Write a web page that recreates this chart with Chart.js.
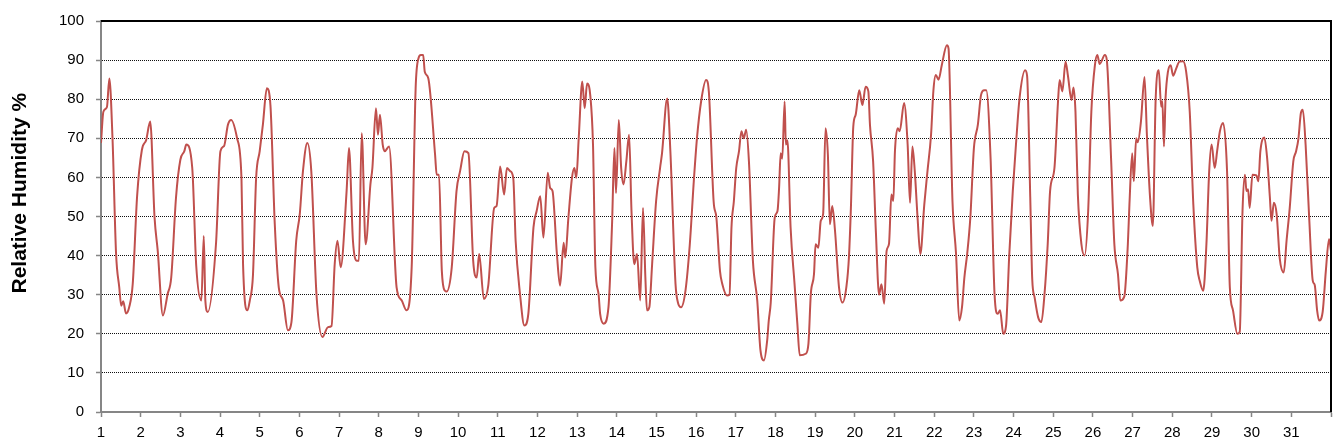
<!DOCTYPE html>
<html>
<head>
<meta charset="utf-8">
<script src="https://cdn.jsdelivr.net/npm/chart.js@4"></script>
<style>
  body { margin: 0; background: #fff; }
  #rh-chart { display: block; }
</style>
</head>
<body>
<canvas id="rh-chart" width="1338" height="447"></canvas>
<script>
// day of month (fractional) and relative humidity
const days = [
  1.00, 1.06, 1.15, 1.21, 1.29, 1.38, 1.46, 1.51, 1.56, 1.63, 1.71, 1.80, 1.91,
  2.03, 2.14, 2.24, 2.35, 2.43, 2.56, 2.68, 2.77, 2.89,
  3.00, 3.10, 3.15, 3.30, 3.40, 3.53, 3.59, 3.63, 3.69, 3.90,
  4.01, 4.10, 4.20, 4.28, 4.43, 4.54, 4.58, 4.69, 4.75, 4.83, 4.91,
  5.00, 5.08, 5.18, 5.27, 5.38, 5.48, 5.59, 5.71, 5.80, 5.92,
  6.01, 6.09, 6.20, 6.30, 6.43, 6.58, 6.72, 6.81, 6.89, 6.96,
  7.04, 7.19, 7.25, 7.35, 7.45, 7.50, 7.57, 7.67, 7.79, 7.84, 7.93, 7.98,
  8.03, 8.10, 8.15, 8.26, 8.45, 8.58, 8.70, 8.83, 8.93,
  9.00, 9.06, 9.12, 9.16, 9.25, 9.42, 9.46, 9.52, 9.59, 9.67, 9.71, 9.84, 9.96,
  10.05, 10.16, 10.26, 10.38, 10.47, 10.53, 10.65, 10.76, 10.91, 10.97,
  11.06, 11.16, 11.23, 11.31, 11.39, 11.45, 11.56, 11.67, 11.77, 11.90, 11.98,
  12.07, 12.15, 12.26, 12.32, 12.38, 12.49, 12.57, 12.66, 12.70, 12.78, 12.87, 12.93, 12.98,
  13.04, 13.13, 13.19, 13.25, 13.33, 13.40, 13.46, 13.54, 13.58, 13.67, 13.79, 13.88, 13.94, 13.98,
  14.05, 14.11, 14.17, 14.24, 14.31, 14.37, 14.44, 14.51, 14.59, 14.66, 14.72, 14.76, 14.82, 14.89, 14.99,
  15.09, 15.14, 15.27, 15.35, 15.48, 15.54, 15.62, 15.73, 15.84, 15.94,
  16.02, 16.13, 16.25, 16.32, 16.44, 16.51, 16.60, 16.66, 16.78, 16.84, 16.89, 16.95,
  17.01, 17.08, 17.14, 17.20, 17.26, 17.33, 17.43, 17.54, 17.62, 17.71, 17.79, 17.83, 17.88, 17.98,
  18.05, 18.09, 18.13, 18.17, 18.23, 18.26, 18.30, 18.38, 18.48, 18.55, 18.61, 18.76, 18.83, 18.89, 18.97,
  19.01, 19.08, 19.14, 19.20, 19.26, 19.32, 19.37, 19.43, 19.50, 19.60, 19.69, 19.79, 19.85, 19.90, 19.96,
  20.02, 20.11, 20.19, 20.27, 20.34, 20.38, 20.46, 20.53, 20.61, 20.67, 20.74, 20.80, 20.86, 20.92, 20.97,
  21.01, 21.08, 21.13, 21.24, 21.33, 21.39, 21.45, 21.51, 21.58, 21.65, 21.75, 21.83, 21.92, 21.98,
  22.04, 22.11, 22.19, 22.32, 22.36, 22.46, 22.55, 22.63, 22.70, 22.76, 22.83, 22.91,
  23.00, 23.10, 23.18, 23.26, 23.31, 23.42, 23.52, 23.60, 23.66, 23.74, 23.81, 23.89, 23.98,
  24.06, 24.15, 24.29, 24.34, 24.42, 24.47, 24.53, 24.62, 24.70, 24.78, 24.86, 24.92,
  25.03, 25.12, 25.16, 25.23, 25.31, 25.37, 25.46, 25.51, 25.56, 25.62, 25.71, 25.79, 25.88, 25.96,
  26.05, 26.11, 26.17, 26.30, 26.35, 26.46, 26.54, 26.63, 26.69, 26.79, 26.88, 26.92, 26.99,
  27.03, 27.09, 27.13, 27.21, 27.30, 27.36, 27.44, 27.51, 27.58, 27.66, 27.72, 27.75, 27.79, 27.83, 27.89, 27.96,
  28.02, 28.10, 28.18, 28.27, 28.35, 28.44, 28.53, 28.63, 28.69, 28.78, 28.86, 28.93, 28.99,
  29.07, 29.13, 29.20, 29.28, 29.38, 29.45, 29.53, 29.64, 29.70, 29.77, 29.83, 29.87, 29.91, 29.95,
  30.02, 30.12, 30.17, 30.22, 30.32, 30.39, 30.46, 30.50, 30.56, 30.63, 30.71, 30.81, 30.88, 30.96,
  31.05, 31.12, 31.18, 31.24, 31.29, 31.36, 31.45, 31.54, 31.59, 31.65, 31.70, 31.79, 31.87, 31.95, 32.00
];

const humidity = [
  68.8, 76.8, 78, 85.3, 70, 40.4, 31.9, 27.2, 28.3, 25.2, 26.8, 32.8, 55.2,
  67, 69.6, 74.3, 49.7, 41.2, 24.7, 30.2, 34.4, 54.8,
  64.5, 66.7, 68.4, 62.4, 37.4, 28.5, 45, 28.5, 25.6, 43.3,
  66.7, 68, 73.5, 74.7, 70, 59.9, 37.8, 26, 28.5, 35, 59.9,
  66.7, 73.5, 82.8, 78.5, 48, 31.9, 28.5, 20.9, 23, 43.8,
  50.6, 61.6, 68.8, 61.6, 30.2, 19.2, 21.7, 22, 37.8, 43.8,
  37, 56.5, 67.5, 43.8, 38.7, 38.7, 71.3, 42.9, 58.2, 62.4, 77.7, 70.9,
  76, 68.4, 66.7, 67.9, 31.9, 28.5, 26, 37, 82.8,
  90.4, 91.3, 91.3, 87, 85.3, 65.8, 60.7, 60.7, 36.1, 31, 30.8, 37, 56.5,
  61.6, 66.7, 66.2, 38.7, 34.4, 40.4, 28.9, 32.3, 52.2, 52.7,
  62.8, 55.6, 62.4, 61.6, 59.9, 43.8, 30.2, 22.1, 25.1, 47.2, 51.4,
  55.2, 44.6, 61.2, 57.3, 56.5, 40.4, 32.3, 43.3, 39.5, 49.7, 59.9, 62.4, 59.9,
  70, 84.5, 77.7, 84, 81.1, 68.4, 37, 30.2, 25.1, 22.6, 26.8, 48, 67.5, 56,
  74.7, 62.4, 58.2, 64.1, 70.9, 51.4, 37.8, 40.4, 28.5, 52.2, 34.4, 26, 26.8, 37.8, 53.9,
  62.4, 66.2, 80.2, 66.7, 32.7, 28, 26.8, 31, 42.9, 59,
  70, 79.8, 84.9, 81.9, 53.9, 49.7, 36.1, 32.7, 29.8, 30, 47.2, 53.9,
  62.4, 66.7, 71.8, 70, 72.2, 64.1, 38.7, 28.5, 15.8, 13.2, 18.3, 23.4, 28, 49.7,
  51.4, 57.3, 66.2, 64.8, 79.4, 68.4, 69.5, 47.2, 32.7, 22.6, 14.5, 14.9, 17.5, 30.2, 35.3,
  42.9, 42, 48.9, 50.6, 72.6, 65.8, 48, 52.7, 46.3, 31.9, 28, 32.3, 39.5, 52.2, 73,
  76, 82.3, 78.5, 83.2, 82, 73.5, 64.1, 46, 30, 32.7, 27.7, 41.2, 43, 55.6, 54,
  66.7, 72.6, 71.8, 79, 68.4, 53.5, 67.9, 61.6, 49.7, 40.4, 53.1, 61.6, 70.9, 82.3,
  86.2, 85, 88.7, 93.8, 93, 53.9, 40.4, 23.4, 26.8, 34.4, 40.4, 49.7,
  67.5, 73.5, 81.1, 82.3, 82.3, 65, 30.2, 25.1, 26, 20, 22, 40, 56.5,
  68.4, 80.2, 87.4, 86, 55, 34, 29.3, 24.2, 23, 30.2, 42.9, 56.5,
  62.4, 79.4, 84.9, 82, 89.6, 86, 79.8, 83, 76.8, 55.6, 42.9, 40, 51.4, 76.8,
  88.7, 91.3, 89, 91.3, 90, 64.1, 42.9, 35.3, 28.5, 29.5, 42.9, 53.1, 66.2,
  59, 70, 69, 74.3, 85.7, 70.9, 54.8, 47.6, 79.8, 87.4, 78.1, 79.5, 67.9, 80.2, 87, 88.7,
  86, 87.9, 89.6, 89.7, 87, 76.8, 53.1, 37, 33.6, 31, 42.9, 61.6, 68.4,
  62.4, 66.7, 71.8, 73.9, 61.6, 31.9, 26, 20, 20.5, 51.4, 60.7, 56.5, 57, 52.2,
  60.7, 60.5, 59, 66.7, 70.2, 65, 54.8, 48.9, 53.5, 50.6, 39.1, 35.7, 43.8, 52.2,
  64.1, 66.7, 70, 76.4, 77.3, 68.4, 49.7, 33.6, 32.5, 26, 23.4, 25.6, 36.1, 44.2, 41.2
];

const firstDay = 1;
const lastDay = 32;
const lastLabelDay = 31;
const yMin = 0;
const yMax = 100;
const yStep = 10;

const points = days.map((d, i) => ({ x: d, y: humidity[i] }));

// black frame on top and right of plot, like the original
const frameBorder = {
  id: "frameBorder",
  afterDraw(chart) {
    const { ctx, chartArea } = chart;
    ctx.save();
    ctx.strokeStyle = "#000";
    ctx.lineWidth = 2;
    ctx.beginPath();
    ctx.moveTo(chartArea.left, chartArea.top);
    ctx.lineTo(chartArea.right, chartArea.top);
    ctx.lineTo(chartArea.right, chartArea.bottom);
    ctx.stroke();
    ctx.restore();
  },
};

const ctx = document.querySelector("#rh-chart").getContext("2d");

const rhChart = new Chart(ctx, {
  type: "line",
  data: {
    datasets: [
      {
        label: "Relative Humidity",
        data: points,
        borderColor: "#C0504D",
        borderWidth: 2,
        pointRadius: 0,
        cubicInterpolationMode: "monotone",
        fill: false,
      },
    ],
  },
  options: {
    responsive: false,
    animation: false,
    layout: { padding: { top: 18, right: 7, left: 0, bottom: 0 } },
    plugins: {
      legend: { display: false },
      tooltip: { enabled: false },
    },
    scales: {
      x: {
        type: "linear",
        min: firstDay,
        max: lastDay,
        afterFit(scale) { scale.height = 35; },
        ticks: {
          stepSize: 1,
          autoSkip: false,
          maxRotation: 0,
          padding: 7,
          color: "#000",
          font: { family: "Arial, 'Liberation Sans', sans-serif", size: 15 },
          callback: (v) => (v <= lastLabelDay ? v : ""),
        },
        grid: {
          drawOnChartArea: false,
          drawTicks: true,
          tickLength: 5,
          tickColor: "#868686",
          tickWidth: 1.5,
        },
        border: { color: "#868686", width: 2 },
      },
      y: {
        min: yMin,
        max: yMax,
        afterFit(scale) { scale.width = 101; },
        ticks: {
          stepSize: yStep,
          padding: 12,
          color: "#000",
          font: { family: "Arial, 'Liberation Sans', sans-serif", size: 15 },
        },
        grid: {
          color: "#111",
          lineWidth: 1,
          drawTicks: true,
          tickLength: 5,
          tickColor: "#868686",
          tickWidth: 1.5,
        },
        border: { color: "#868686", width: 2, dash: [1, 1] },
        title: {
          display: true,
          text: "        Relative Humidity %",
          color: "#000",
          padding: { top: 8, bottom: 0 },
          font: { family: "Arial, 'Liberation Sans', sans-serif", size: 21, weight: "bold" },
        },
      },
    },
  },
  plugins: [frameBorder],
});
</script>
</body>
</html>
